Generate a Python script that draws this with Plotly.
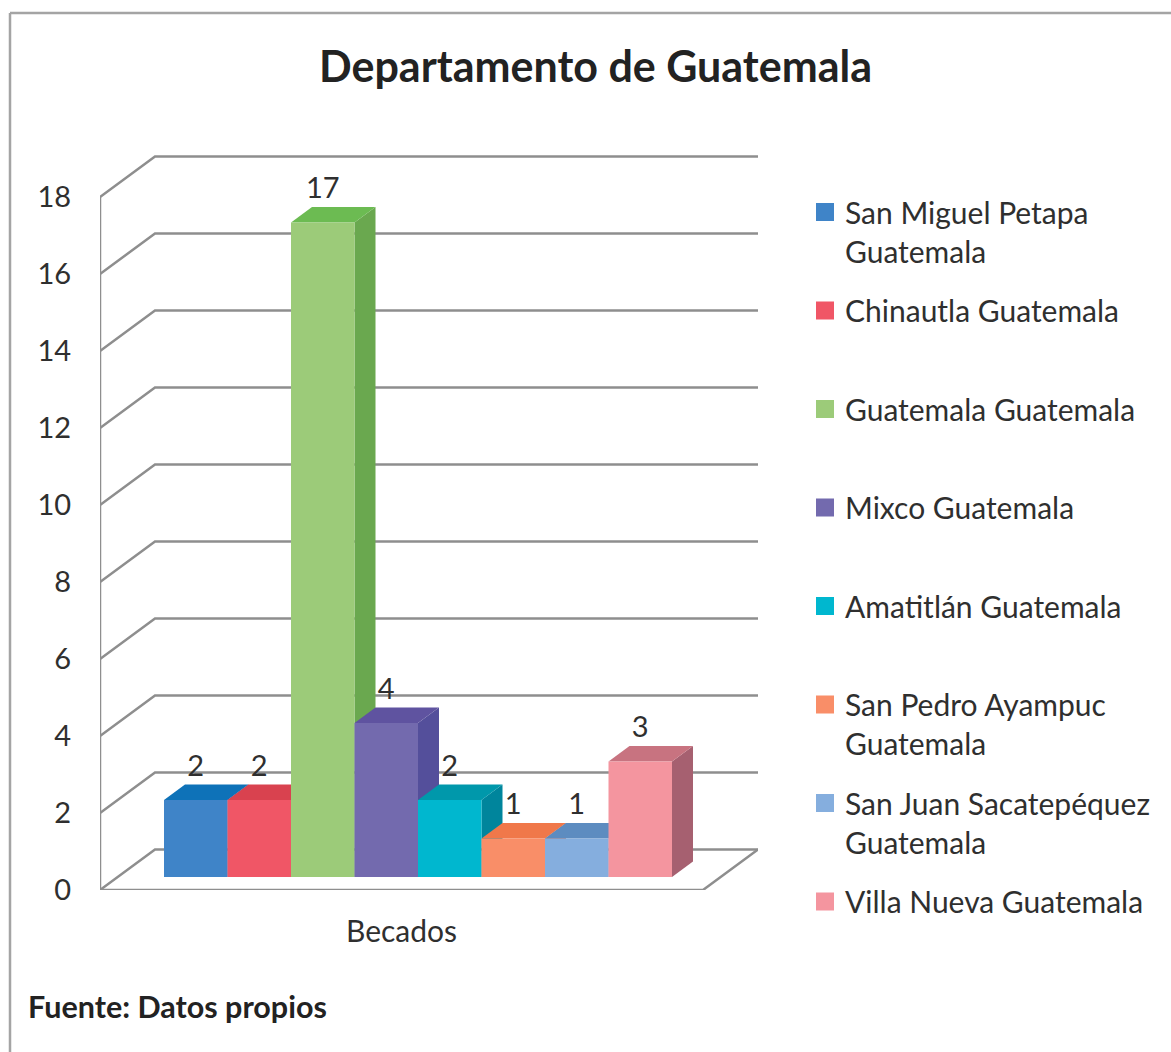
import plotly.graph_objects as go

W, H = 1171, 1052

# Data
municipios = ["San Miguel Petapa Guatemala", "Chinautla Guatemala", "Guatemala Guatemala",
              "Mixco Guatemala", "Amatitlán Guatemala", "San Pedro Ayampuc Guatemala",
              "San Juan Sacatepéquez Guatemala", "Villa Nueva Guatemala"]
legend_labels = ["San Miguel Petapa<br>Guatemala", "Chinautla Guatemala<br> ", "Guatemala Guatemala<br> ",
                 "Mixco Guatemala<br> ", "Amatitlán Guatemala<br> ", "San Pedro Ayampuc<br>Guatemala",
                 "San Juan Sacatepéquez<br>Guatemala", "Villa Nueva Guatemala"]
becados = [2, 2, 17, 4, 2, 1, 1, 3]
y_ticks = [0, 2, 4, 6, 8, 10, 12, 14, 16, 18]
category = ["Becados"]

# Colours
front_colors = ["#3f84c8", "#f05666", "#9ccb79", "#736aae", "#00b7cf", "#f98e68", "#85aede", "#f4959f"]
top_colors = ["#0e72b8", "#d9424f", "#6cbb52", "#5f53a0", "#0098ab", "#f0784a", "#5d8cc0", "#c87380"]
side_colors = ["#2f68a6", "#c04452", "#6aa84f", "#544f9b", "#00859c", "#d9734e", "#6289b8", "#a66070"]
grid_color = "#8e8e8e"
text_color = "#2f2f2f"
frame_color = "#a4a4a4"

# Oblique projection, in data units
plot_left, plot_right, plot_top, plot_bottom = 100, 758, 155, 890
x_unit, y_unit = 63.5, 38.5      # px per bar / px per value
x0_px, y0_px = 164, 877
depth_x, depth_y = 21 / x_unit, 15.5 / y_unit
x_range = [(plot_left - x0_px) / x_unit, (plot_right - x0_px) / x_unit]
y_range = [(y0_px - plot_bottom) / y_unit, (y0_px - plot_top) / y_unit]
wall_dx = (155 - plot_left) / x_unit
wall_dy = 40.5 / y_unit
floor_right = (703 - x0_px) / x_unit
label_offset = 31.5 / y_unit


def px(x):
    return (x - plot_left) / (plot_right - plot_left)


def py(y):
    return (plot_bottom - y) / (plot_bottom - plot_top)


fig = go.Figure()

# Walls and floor
gx, gy = [], []
for v in y_ticks:
    f = y_range[0] + v
    gx += [x_range[0], x_range[0] + wall_dx, x_range[1], None]
    gy += [f, f + wall_dy, f + wall_dy, None]
gx += [x_range[0], x_range[0], None, x_range[0], floor_right, x_range[1]]
gy += [y_range[0], y_range[0] + max(y_ticks), None, y_range[0], y_range[0], y_range[0] + wall_dy]
fig.add_trace(go.Scatter(x=gx, y=gy, mode="lines", line=dict(color=grid_color, width=2.5),
                         cliponaxis=False, showlegend=False, hoverinfo="skip"))

# Top and side faces
for i, v in enumerate(becados):
    fig.add_trace(go.Scatter(
        x=[i + 1, i + 1 + depth_x, i + 1 + depth_x, i + 1, i + 1],
        y=[0, depth_y, v + depth_y, v, 0],
        mode="lines", fill="toself", fillcolor=side_colors[i], line=dict(width=0),
        cliponaxis=False, showlegend=False, hoverinfo="skip"))
    fig.add_trace(go.Scatter(
        x=[i, i + 1, i + 1 + depth_x, i + depth_x, i],
        y=[v, v, v + depth_y, v + depth_y, v],
        mode="lines", fill="toself", fillcolor=top_colors[i], line=dict(width=0),
        cliponaxis=False, showlegend=False, hoverinfo="skip"))

# Front faces, on overlaid axes so that they cover the faces behind them
for i, v in enumerate(becados):
    fig.add_trace(go.Bar(x=[i + 0.5], y=[v], width=[1], name=municipios[i], xaxis="x2", yaxis="y2",
                         marker=dict(color=front_colors[i], line=dict(width=0)), showlegend=False))

# Value labels
fig.add_trace(go.Scatter(x=[i + 0.5 for i in range(len(becados))],
                         y=[v + label_offset for v in becados],
                         text=[str(v) for v in becados], mode="text", xaxis="x2", yaxis="y2",
                         textposition="middle center", cliponaxis=False,
                         textfont=dict(family="Lato", size=29, color=text_color),
                         showlegend=False, hoverinfo="skip"))

# Legend entries
for i, label in enumerate(legend_labels):
    fig.add_trace(go.Scatter(x=[None], y=[None], mode="markers", name=label, legendgroup=str(i),
                             marker=dict(symbol="square", size=16, color=front_colors[i],
                                         line=dict(color=front_colors[i], width=2))))

fig.update_layout(
    width=W, height=H,
    paper_bgcolor="white", plot_bgcolor="white",
    margin=dict(l=plot_left, r=W - plot_right, t=plot_top, b=H - plot_bottom, autoexpand=False),
    barmode="overlay", hovermode="closest",
    font=dict(family="Lato", size=29, color=text_color),
    xaxis=dict(range=x_range, showgrid=False, zeroline=False, showline=False,
               tickmode="array", tickvals=[(x_range[0] + floor_right) / 2], ticktext=category,
               ticks="outside", ticklen=15, tickcolor="rgba(0,0,0,0)", tickfont=dict(size=30)),
    yaxis=dict(range=y_range, showgrid=False, zeroline=False, showline=False,
               tickmode="array", tickvals=[y_range[0] + v for v in y_ticks],
               ticktext=[str(v) for v in y_ticks],
               ticks="outside", ticklen=22, tickcolor="rgba(0,0,0,0)", tickfont=dict(size=29)),
    xaxis2=dict(range=x_range, overlaying="x", anchor="y2", visible=False),
    yaxis2=dict(range=y_range, overlaying="y", anchor="x2", visible=False),
    legend=dict(x=px(805), y=py(186), xanchor="left", yanchor="top", bgcolor="rgba(0,0,0,0)",
                tracegroupgap=17.5, itemclick=False, itemdoubleclick=False, valign="top",
                maxheight=900, font=dict(family="Lato", size=30, color=text_color)),
    annotations=[
        dict(text="<b>Departamento de Guatemala</b>", xref="paper", yref="paper", x=px(595), y=py(66),
             showarrow=False, xanchor="center", yanchor="middle",
             font=dict(family="Lato", size=43, color="#222222")),
        dict(text="<b>Fuente: Datos propios</b>", xref="paper", yref="paper", x=px(26), y=py(1006),
             showarrow=False, xanchor="left", yanchor="middle",
             font=dict(family="Lato", size=30.5, color="#222222")),
    ],
    shapes=[
        dict(type="line", xref="paper", yref="paper", x0=px(10), y0=py(H), x1=px(10), y1=py(13),
             line=dict(color=frame_color, width=2.5)),
        dict(type="line", xref="paper", yref="paper", x0=px(10), y0=py(13), x1=px(W), y1=py(13),
             line=dict(color=frame_color, width=2.5)),
    ],
)

fig.write_html("out.html", config=dict(displayModeBar=False),
               post_script="document.body.style.margin='0';document.body.style.overflow='hidden';")
